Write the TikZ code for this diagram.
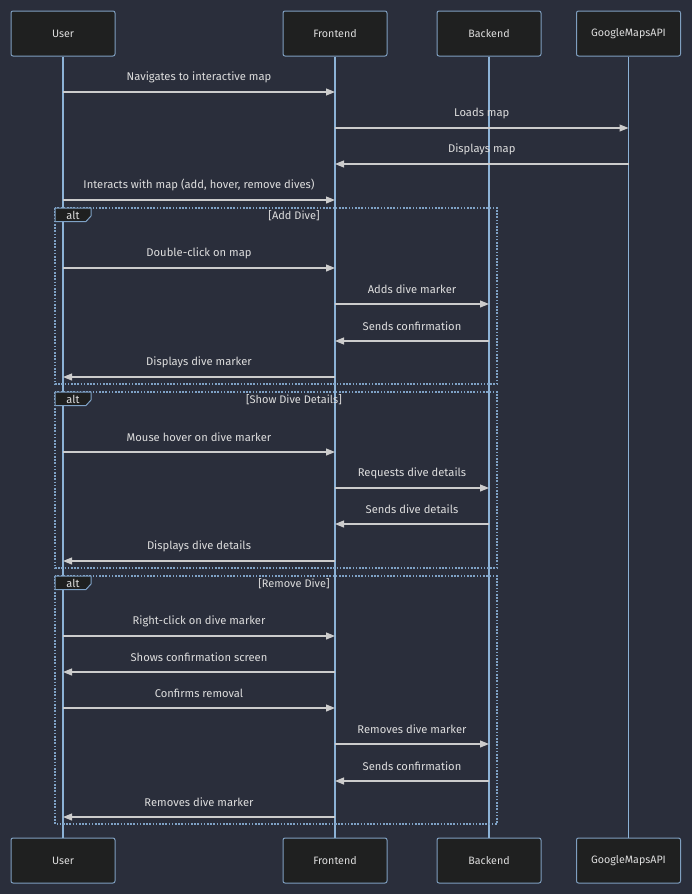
\documentclass[tikz,border=0pt]{standalone}
\usepackage{fontspec}
\setmainfont{Fira Sans}
\usetikzlibrary{arrows.meta}

\definecolor{bgc}{HTML}{2A2E3B}
\definecolor{actorfill}{HTML}{1F2020}
\definecolor{actorline}{HTML}{7F9FC0}
\definecolor{lifeline}{HTML}{8CB2D6}
\definecolor{msgline}{HTML}{CCCCCC}
\definecolor{txt}{HTML}{DDDDDD}
\definecolor{framec}{HTML}{7FA2C6}

\tikzset{
  actor/.style={draw=actorline, fill=actorfill, line width=1pt, rounded corners=2pt,
    minimum width=104pt, minimum height=45pt, inner sep=0pt,
    text=txt, font=\fontsize{10.7}{12}\selectfont},
  life/.style={draw=lifeline, line width=1.1pt},
  msg/.style={draw=msgline, line width=1.1pt,
    -{Triangle[length=9pt,width=7pt,fill=msgline]}},
  msgtext/.style={text=txt, font=\fontsize{11.2}{13}\selectfont, inner sep=0pt},
  altframe/.style={draw=framec, line width=1.4pt, dash pattern=on 1.6pt off 1.6pt},
  alttag/.style={draw=framec, fill=actorfill, line width=1pt},
  guard/.style={text=txt, font=\fontsize{11}{13}\selectfont, inner sep=0pt},
}

\begin{document}
\begin{tikzpicture}[x=1pt,y=-1pt]
\fill[bgc] (0,0) rectangle (692,894);
\useasboundingbox (0,0) rectangle (692,894);

% participants, top and bottom
\node[actor] (u1) at (63,33.5) {User};
\node[actor] (f1) at (335,33.5) {Frontend};
\node[actor] (b1) at (489,33.5) {Backend};
\node[actor] (g1) at (628.5,33.5) {GoogleMapsAPI};
\node[actor] (u2) at (63,860.5) {User};
\node[actor] (f2) at (335,860.5) {Frontend};
\node[actor] (b2) at (489,860.5) {Backend};
\node[actor] (g2) at (628.5,860.5) {GoogleMapsAPI};

% lifelines
\foreach \t/\b in {u1/u2,f1/f2,b1/b2,g1/g2}
  \draw[life] (\t) -- (\b);

% alt frames
\foreach \top/\bot/\gtxt in {208/384/{[Add Dive]},392/568/{[Show Dive Details]},576/824/{[Remove Dive]}}{
  \draw[altframe] (55,\top) rectangle (497,\bot);
  \draw[alttag] (55,\top) -- (91,\top) -- (91,\top+8) -- (86,\top+13.5) -- (55,\top+13.5) -- cycle;
  \node[guard] at (73,\top+7) {alt};
  \node[guard] at (294,\top+7.5) {\gtxt};
}

% messages: from / to / y / text
\foreach \a/\b/\y/\t in {
  u1/f1/92/{Navigates to interactive map},
  f1/g1/128/{Loads map},
  g1/f1/164/{Displays map},
  u1/f1/200/{Interacts with map (add, hover, remove dives)},
  u1/f1/268/{Double-click on map},
  f1/b1/304/{Adds dive marker},
  b1/f1/341/{Sends confirmation},
  f1/u1/377/{Displays dive marker},
  u1/f1/452/{Mouse hover on dive marker},
  f1/b1/488/{Requests dive details},
  b1/f1/524/{Sends dive details},
  f1/u1/561/{Displays dive details},
  u1/f1/636/{Right-click on dive marker},
  f1/u1/672/{Shows confirmation screen},
  u1/f1/708/{Confirms removal},
  f1/b1/744/{Removes dive marker},
  b1/f1/781/{Sends confirmation},
  f1/u1/817/{Removes dive marker}}{
  \coordinate (ly) at (0,\y);
  \draw[msg] (\a |- ly) -- (\b |- ly)
    node[msgtext, midway, yshift=15pt] {\t};
}
\end{tikzpicture}
\end{document}
